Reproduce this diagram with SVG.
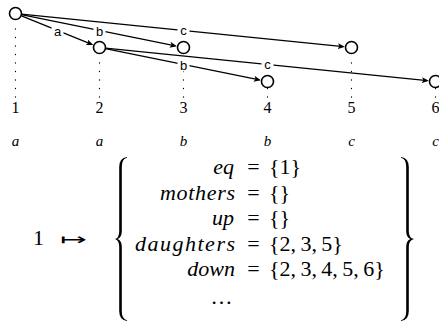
<svg xmlns="http://www.w3.org/2000/svg" width="439" height="321" viewBox="0 0 439 321">
<style>
.edge{fill:none;stroke:#000;stroke-width:1.2;marker-end:url(#arr)}
.node{fill:#fff;stroke:#000;stroke-width:1.6}
.dots{fill:none;stroke:#000;stroke-width:1.3;stroke-linecap:round;stroke-dasharray:0 8.5}
.lbg{fill:#fff;stroke:none}
.lbl{font-family:"Liberation Sans",Arial,sans-serif;font-size:13px;text-anchor:middle;fill:#000}
.num{font-family:"Liberation Serif","Times New Roman",serif;font-size:16px;text-anchor:middle;fill:#000}
.cat{font-family:"Liberation Serif","Times New Roman",serif;font-size:15px;font-style:italic;text-anchor:middle;fill:#000}
.m{font-family:"Liberation Serif","Times New Roman",serif;font-size:22px;fill:#000}
.mi{font-style:italic;text-anchor:end}
.eq{text-anchor:middle}
.mapsto{font-family:"DejaVu Sans",sans-serif;font-size:16px;fill:#000}
.brace{fill:#000;stroke:none}
</style>
<defs>
<marker id="arr" markerUnits="userSpaceOnUse" markerWidth="8" markerHeight="6" refX="5.5" refY="3" orient="auto">
<path d="M7,3 L0,0 L1.6,3 L0,6 Z" fill="#000"/>
</marker>
</defs>
<g id="guides">
<path class="dots" d="M15.5,97 V28.5"/>
<path class="dots" d="M99.5,97 V54.5"/>
<path class="dots" d="M183.5,97 V54.5"/>
<path class="dots" d="M267.5,97 V88"/>
<path class="dots" d="M351.5,97 V54.5"/>
<path class="dots" d="M435.5,97 V88"/>
</g>
<g id="connectors">
<g id="e12"><path class="edge" d="M21.5,15.9 L91.85,44.41"/><rect class="lbg" x="51.5" y="24.5" width="12" height="13"/><text class="lbl" x="57.5" y="35.5">a</text></g>
<g id="e13"><path class="edge" d="M21.38,14.69 L175.41,45.86"/><rect class="lbg" x="93.5" y="24.5" width="12" height="13"/><text class="lbl" x="99.5" y="35.5">b</text></g>
<g id="e15"><path class="edge" d="M21.47,14.1 L343.29,46.67"/><rect class="lbg" x="177.5" y="24.5" width="12" height="13"/><text class="lbl" x="183.5" y="34.5">c</text></g>
<g id="e24"><path class="edge" d="M105.38,48.69 L259.41,79.86"/><rect class="lbg" x="177.5" y="58.5" width="12" height="13"/><text class="lbl" x="183.5" y="69.5">b</text></g>
<g id="e26"><path class="edge" d="M105.47,48.1 L427.29,80.67"/><rect class="lbg" x="261.5" y="58.5" width="12" height="13"/><text class="lbl" x="267.5" y="68.5">c</text></g>
</g>
<g id="nodes">
<g id="n1"><circle class="node" cx="15.5" cy="13.5" r="6"/><text class="num" x="15.5" y="113">1</text><text class="cat" x="15.5" y="145.5">a</text></g>
<g id="n2"><circle class="node" cx="99.5" cy="47.5" r="6"/><text class="num" x="99.5" y="113">2</text><text class="cat" x="99.5" y="145.5">a</text></g>
<g id="n3"><circle class="node" cx="183.5" cy="47.5" r="6"/><text class="num" x="183.5" y="113">3</text><text class="cat" x="183.5" y="145.5">b</text></g>
<g id="n4"><circle class="node" cx="267.5" cy="81.5" r="6"/><text class="num" x="267.5" y="113">4</text><text class="cat" x="267.5" y="145.5">b</text></g>
<g id="n5"><circle class="node" cx="351.5" cy="47.5" r="6"/><text class="num" x="351.5" y="113">5</text><text class="cat" x="351.5" y="145.5">c</text></g>
<g id="n6"><circle class="node" cx="435.5" cy="81.5" r="6"/><text class="num" x="435.5" y="113">6</text><text class="cat" x="435.5" y="145.5">c</text></g>
</g>
<g id="formula">
<text class="m" x="38.5" y="245" text-anchor="middle">1</text>
<text class="mapsto" x="60" y="244.5" textLength="27" lengthAdjust="spacingAndGlyphs">↦</text>
<path class="brace" d="M127,157 Q119.2,158 119.2,167 L119.2,231 Q119.2,238 115,239 Q119.2,240 119.2,247 L119.2,311 Q119.2,320 127,321 L127,320.2 Q121.8,319 121.8,311 L121.8,247 Q121.8,240.5 117.5,239 Q121.8,237.5 121.8,231 L121.8,167 Q121.8,158.8 127,157.8 Z"/>
<path class="brace" d="M401,157 Q408.8,158 408.8,167 L408.8,231 Q408.8,238 414,239 Q408.8,240 408.8,247 L408.8,311 Q408.8,320 401,321 L401,320.2 Q406.2,319 406.2,311 L406.2,247 Q406.2,240.5 410.5,239 Q406.2,237.5 406.2,231 L406.2,167 Q406.2,158.8 401,157.8 Z"/>
<text class="m mi" x="234" y="174">eq</text>
<text class="m eq" x="253.5" y="174">=</text>
<text class="m" x="269" y="174">{1}</text>
<text class="m mi" x="235" y="199.5" textLength="75" lengthAdjust="spacing">mothers</text>
<text class="m eq" x="253.5" y="199.5">=</text>
<text class="m" x="269" y="199.5">{}</text>
<text class="m mi" x="234" y="225">up</text>
<text class="m eq" x="253.5" y="225">=</text>
<text class="m" x="269" y="225">{}</text>
<text class="m mi" x="235" y="250.5" textLength="100" lengthAdjust="spacing">daughters</text>
<text class="m eq" x="253.5" y="250.5">=</text>
<text class="m" x="269" y="250.5">{2,&#8201;3,&#8201;5}</text>
<text class="m mi" x="235" y="276">down</text>
<text class="m eq" x="253.5" y="276">=</text>
<text class="m" x="269" y="276">{2,&#8201;3,&#8201;4,&#8201;5,&#8201;6}</text>
<text class="m" x="221.5" y="304" text-anchor="middle">…</text>
</g>
</svg>
